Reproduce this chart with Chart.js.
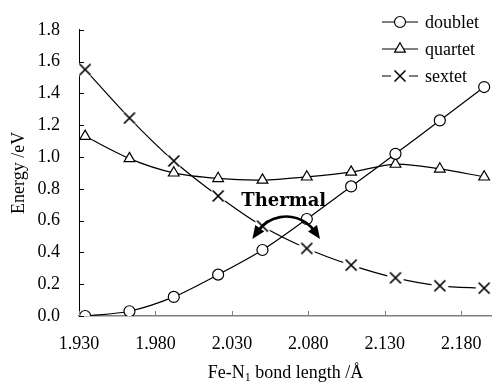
<!DOCTYPE html>
<html>
<head>
<meta charset="utf-8">
<script src="https://cdn.jsdelivr.net/npm/chart.js@4.4.0/dist/chart.umd.min.js"></script>
<style>
  html, body { margin: 0; padding: 0; background: #fff; }
</style>
</head>
<body>
<canvas id="energyChart" width="503" height="383"></canvas>
<script>
// Fe-N1 bond length (Å) of each computed point
const bondLength = [1.934, 1.963, 1.992, 2.021, 2.050, 2.079, 2.108, 2.137, 2.166, 2.195];
// relative energies (eV) for each spin state
const doublet = [0.00, 0.03, 0.12, 0.26, 0.415, 0.61, 0.815, 1.02, 1.23, 1.44];
const quartet = [1.13, 0.99, 0.90, 0.865, 0.855, 0.875, 0.905, 0.955, 0.925, 0.875];
const sextet = [1.55, 1.245, 0.975, 0.755, 0.565, 0.425, 0.32, 0.24, 0.19, 0.175];

const xTicks = [1.930, 1.980, 2.030, 2.080, 2.130, 2.180];
const yTicks = [0.0, 0.2, 0.4, 0.6, 0.8, 1.0, 1.2, 1.4, 1.6, 1.8];
const seriesNames = ["doublet", "quartet", "sextet"];

const serif = "'Liberation Serif', 'Times New Roman', serif";

// X marker with a white halo so the line breaks around it
function crossMarker() {
  const c = document.createElement("canvas");
  c.width = 22;
  c.height = 22;
  const g = c.getContext("2d");
  g.fillStyle = "#fff";
  g.beginPath();
  g.arc(11, 11, 8.5, 0, Math.PI * 2);
  g.fill();
  g.strokeStyle = "#000";
  g.lineWidth = 1.7;
  g.beginPath();
  g.moveTo(5.5, 5.5); g.lineTo(16.5, 16.5);
  g.moveTo(16.5, 5.5); g.lineTo(5.5, 16.5);
  g.stroke();
  return c;
}
const xMark = crossMarker();

const toPoints = (ys) => bondLength.map((x, i) => ({ x: x, y: ys[i] }));

// inner tick marks, axis titles, legend and the "Thermal" note
const extras = {
  id: "extras",
  afterDatasetsDraw(chart) {
    const ctx = chart.ctx;
    const xs = chart.scales.x;
    const ys = chart.scales.y;
    const area = chart.chartArea;
    ctx.save();

    // tick marks pointing inward
    ctx.lineWidth = 1;
    ctx.strokeStyle = "#7f7f7f";
    xTicks.forEach((v) => {
      const px = Math.round(xs.getPixelForValue(v)) + 0.5;
      ctx.beginPath();
      ctx.moveTo(px, area.bottom);
      ctx.lineTo(px, area.bottom - 5);
      ctx.stroke();
    });
    ctx.strokeStyle = "#000";
    yTicks.forEach((v) => {
      const py = Math.round(ys.getPixelForValue(v)) + 0.5;
      ctx.beginPath();
      ctx.moveTo(area.left, py);
      ctx.lineTo(area.left + 5, py);
      ctx.stroke();
    });

    // axis titles
    ctx.fillStyle = "#000";
    ctx.font = "18px " + serif;
    ctx.textBaseline = "alphabetic";
    ctx.save();
    ctx.translate(24, (area.top + area.bottom) / 2);
    ctx.rotate(-Math.PI / 2);
    ctx.textAlign = "center";
    ctx.fillText("Energy /eV", 0, 0);
    ctx.restore();

    const part1 = "Fe-N", sub = "1", part2 = " bond length /Å";
    ctx.font = "18px " + serif;
    const w1 = ctx.measureText(part1).width;
    const w3 = ctx.measureText(part2).width;
    ctx.font = "12px " + serif;
    const w2 = ctx.measureText(sub).width;
    let tx = (area.left + area.right) / 2 - (w1 + w2 + w3) / 2;
    const ty = 378;
    ctx.textAlign = "left";
    ctx.font = "18px " + serif;
    ctx.fillText(part1, tx, ty);
    ctx.font = "12px " + serif;
    ctx.fillText(sub, tx + w1, ty + 3);
    ctx.font = "18px " + serif;
    ctx.fillText(part2, tx + w1 + w2, ty);

    // legend
    const lx0 = 382, lx1 = 418, mx = 400, textX = 425;
    const rows = [22, 49, 76];
    ctx.lineWidth = 1.2;
    ctx.strokeStyle = "#000";
    ctx.textBaseline = "middle";
    ctx.font = "18px " + serif;
    seriesNames.forEach((name, i) => {
      const y = rows[i];
      ctx.beginPath();
      if (i === 2) {
        ctx.moveTo(lx0, y); ctx.lineTo(lx0 + 9, y);
        ctx.moveTo(lx1 - 9, y); ctx.lineTo(lx1, y);
      } else {
        ctx.moveTo(lx0, y); ctx.lineTo(lx1, y);
      }
      ctx.stroke();
      if (i === 0) {
        ctx.beginPath();
        ctx.arc(mx, y, 5.5, 0, Math.PI * 2);
        ctx.fillStyle = "#fff";
        ctx.fill();
        ctx.stroke();
      } else if (i === 1) {
        const r = 6.2;
        ctx.beginPath();
        ctx.moveTo(mx, y - r);
        ctx.lineTo(mx + r * 0.866, y + r * 0.5);
        ctx.lineTo(mx - r * 0.866, y + r * 0.5);
        ctx.closePath();
        ctx.fillStyle = "#fff";
        ctx.fill();
        ctx.stroke();
      } else {
        ctx.lineWidth = 1.5;
        ctx.beginPath();
        ctx.moveTo(mx - 5.5, y - 5.5); ctx.lineTo(mx + 5.5, y + 5.5);
        ctx.moveTo(mx + 5.5, y - 5.5); ctx.lineTo(mx - 5.5, y + 5.5);
        ctx.stroke();
      }
      ctx.fillStyle = "#000";
      ctx.textAlign = "left";
      ctx.fillText(name, textX, y + 1);
    });

    // "Thermal" with a curved double arrow
    ctx.font = "bold 18px 'DejaVu Serif', serif";
    ctx.textAlign = "center";
    ctx.textBaseline = "alphabetic";
    ctx.fillText("Thermal", xs.getPixelForValue(2.0639), ys.getPixelForValue(0.691));

    const cx = xs.getPixelForValue(2.0655);
    const cy = ys.getPixelForValue(0.405);
    const R = 35;
    const a0 = -145 * Math.PI / 180, a1 = -35 * Math.PI / 180;
    ctx.lineWidth = 2.6;
    ctx.strokeStyle = "#000";
    ctx.beginPath();
    ctx.arc(cx, cy, R, a0, a1);
    ctx.stroke();
    const head = (a, dir) => {
      const ex = cx + R * Math.cos(a), ey = cy + R * Math.sin(a);
      // tangent pointing away from the arc
      const tx2 = dir * -Math.sin(a), ty2 = dir * Math.cos(a);
      const nx = -ty2, ny = tx2;
      const tipX = ex + tx2 * 9, tipY = ey + ty2 * 9;
      const bx = ex - tx2 * 4, by = ey - ty2 * 4;
      ctx.beginPath();
      ctx.moveTo(tipX, tipY);
      ctx.lineTo(bx + nx * 5.5, by + ny * 5.5);
      ctx.lineTo(bx - nx * 5.5, by - ny * 5.5);
      ctx.closePath();
      ctx.fillStyle = "#000";
      ctx.fill();
    };
    head(a0, -1);
    head(a1, 1);

    ctx.restore();
  }
};

const ctx = document.getElementById("energyChart").getContext("2d");

const chart = new Chart(ctx, {
  type: "line",
  data: {
    datasets: [
      {
        label: seriesNames[0],
        data: toPoints(doublet),
        borderColor: "#000",
        borderWidth: 1.2,
        pointStyle: "circle",
        pointRadius: 5.5,
        pointBorderWidth: 1.2,
        pointBorderColor: "#000",
        pointBackgroundColor: "#fff",
        tension: 0.3,
      },
      {
        label: seriesNames[1],
        data: toPoints(quartet),
        borderColor: "#000",
        borderWidth: 1.2,
        pointStyle: "triangle",
        pointRadius: 6.2,
        pointBorderWidth: 1.2,
        pointBorderColor: "#000",
        pointBackgroundColor: "#fff",
        tension: 0.3,
      },
      {
        label: seriesNames[2],
        data: toPoints(sextet),
        borderColor: "#000",
        borderWidth: 1.2,
        pointStyle: xMark,
        pointRadius: 10,
        tension: 0.3,
      },
    ],
  },
  options: {
    responsive: false,
    animation: false,
    devicePixelRatio: 1,
    events: [],
    layout: { padding: { left: 0, right: 0, top: 23, bottom: 0 } },
    plugins: {
      legend: { display: false },
      tooltip: { enabled: false },
    },
    scales: {
      x: {
        type: "linear",
        min: 1.93,
        max: 2.2,
        afterBuildTicks: (s) => { s.ticks = xTicks.map((v) => ({ value: v })); },
        afterFit: (s) => { s.height = 67; },
        grid: { display: false, drawTicks: false },
        border: { display: true, color: "#7f7f7f", width: 1.5 },
        ticks: {
          color: "#000",
          font: { family: serif, size: 18 },
          padding: 17,
          maxRotation: 0,
          autoSkip: false,
          callback: (v) => Number(v).toFixed(3),
        },
      },
      y: {
        type: "linear",
        min: 0,
        max: 1.8,
        afterBuildTicks: (s) => { s.ticks = yTicks.map((v) => ({ value: v })); },
        afterFit: (s) => { s.width = 79; },
        grid: { display: false, drawTicks: false },
        border: { display: true, color: "#000", width: 1 },
        ticks: {
          color: "#000",
          font: { family: serif, size: 18 },
          padding: 19,
          callback: (v) => Number(v).toFixed(1),
        },
      },
    },
  },
  plugins: [extras],
});
</script>
</body>
</html>
